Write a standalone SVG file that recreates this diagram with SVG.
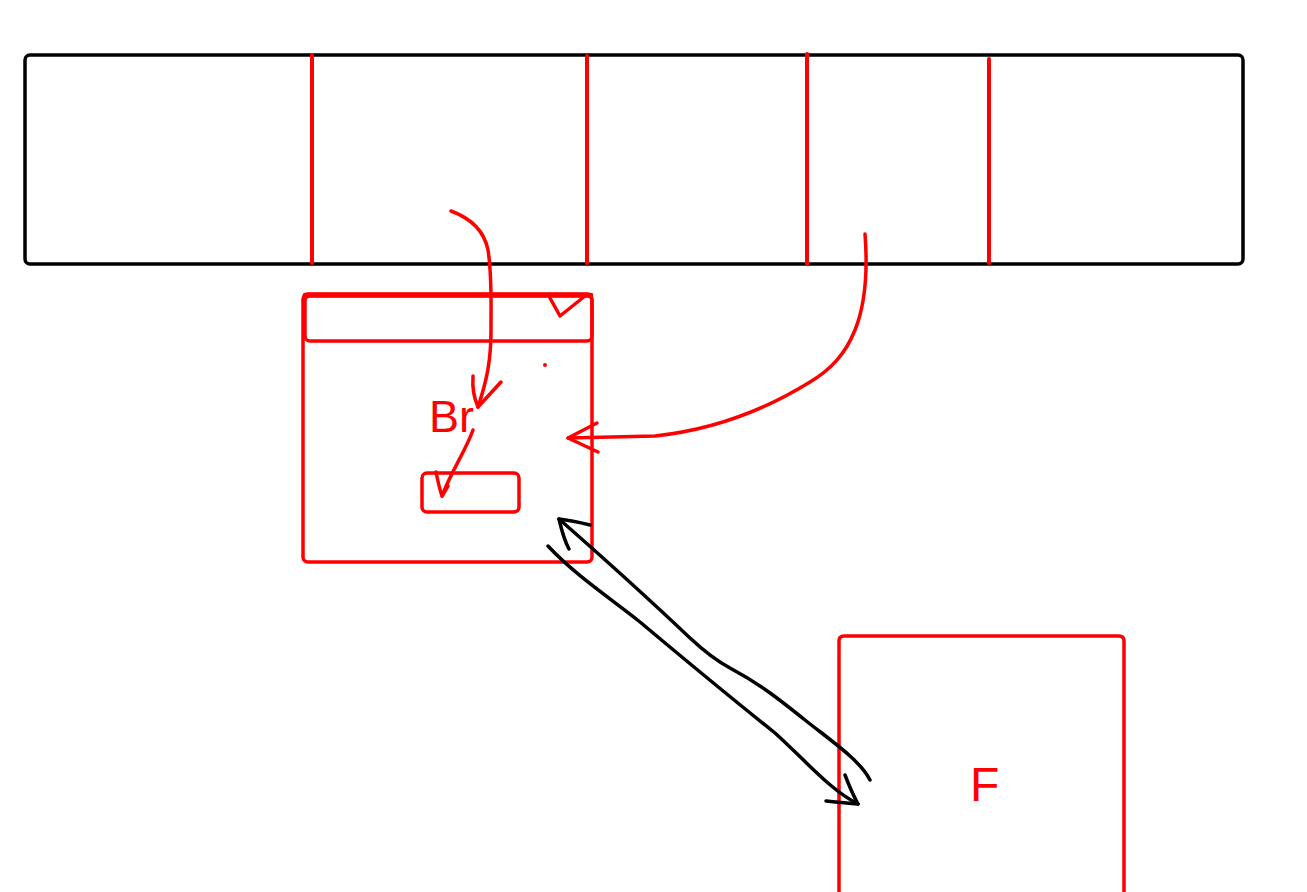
<svg xmlns="http://www.w3.org/2000/svg" width="1307" height="892" viewBox="0 0 1307 892">
<style>
.blk{fill:none;stroke:#000;stroke-width:3.5;stroke-linecap:round;stroke-linejoin:round}
.red{fill:none;stroke:#ff0000;stroke-width:3.5;stroke-linecap:round;stroke-linejoin:round}
.lbl{fill:#ff0000;font-family:"Liberation Sans",Arial,sans-serif}
</style>
<rect width="1307" height="892" fill="#fff"/>
<g id="bar">
<rect class="blk" x="25" y="55" width="1218" height="209" rx="5"/>
<path class="red" d="M312 55V263M587 56V263M807 54V264M989 59V263" style="stroke-width:4"/>
</g>
<g id="window">
<rect class="red" x="303" y="294" width="289" height="268" rx="5"/>
<rect class="red" x="305" y="296" width="287" height="45" rx="5"/>
<path class="red" d="M305 295H591" style="stroke-width:4.5"/>
<path class="red" d="M550 298L560 316L585 296"/>
<rect class="red" x="422" y="473" width="97" height="39" rx="5"/>
<text class="lbl" x="429" y="432" font-size="45">Br</text>
<circle cx="545" cy="365" r="2" fill="#ff0000"/>
</g>
<g id="F">
<path class="red" d="M839 892V641Q839 636 844 636H1119Q1124 636 1124 641V892"/>
<text class="lbl" x="970" y="801" font-size="48">F</text>
</g>
<g id="connectors">
<path class="red" d="M451 211C470 218 484 230 488 250C492 275 491 300 491 330C491 360 487 380 478 407"/>
<path class="red" d="M473 376C472 390 474 398 478 407L501 382"/>
<path class="red" d="M473 430C466 450 452 470 442 496"/>
<path class="red" d="M436 472C438 482 440 490 442 496L448 486"/>
<path class="red" d="M865 234C867 260 867 300 855 330C845 355 830 370 810 382C760 413 710 430 655 436L568 438"/>
<path class="red" d="M597 423L568 438L598 452"/>
<path class="blk" d="M559 519C600 555 650 600 690 638C705 652 715 660 730 668C760 684 780 700 805 720C830 740 860 760 870 780"/>
<path class="blk" d="M548 546C575 575 610 598 640 622C690 664 740 705 775 733C805 760 830 790 858 804"/>
<path class="blk" d="M590 525C578 522 568 520 559 519C562 532 564 540 569 549"/>
<path class="blk" d="M845 775C850 788 853 795 858 804C846 803 836 802 826 801"/>
</g>
</svg>
